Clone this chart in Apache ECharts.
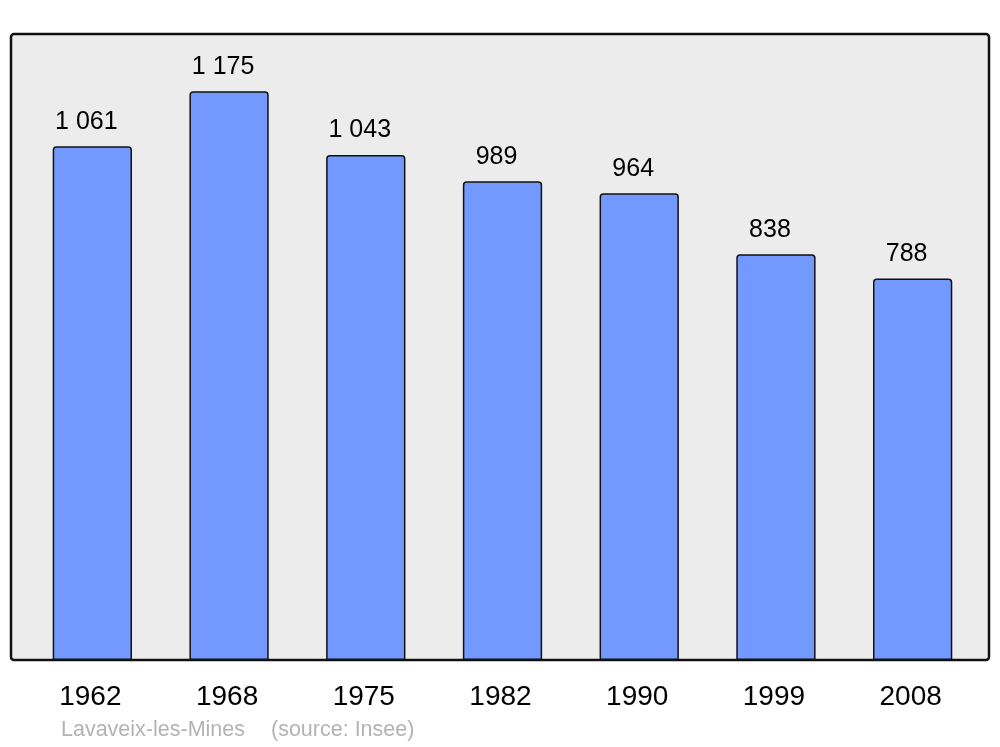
<!DOCTYPE html>
<html>
<head>
<meta charset="utf-8">
<script src="https://cdn.jsdelivr.net/npm/echarts@6/dist/echarts.min.js"></script>
<style>
html,body{margin:0;padding:0;background:#fff;}
#c{width:1000px;height:747px;}
</style>
</head>
<body>
<div id="c"></div>
<script>
const years = ['1962','1968','1975','1982','1990','1999','2008'];
const population = [1061, 1175, 1043, 989, 964, 838, 788];
const valueLabels = ['1 061','1 175','1 043','989','964','838','788'];
const footerName = 'Lavaveix-les-Mines';
const footerSource = '(source: Insee)';

const chart = echarts.init(document.getElementById('c'), null, {renderer:'canvas'});
chart.setOption({
  animation:false,
  backgroundColor:'#ffffff',
  textStyle:{fontFamily:'Liberation Sans, Arial, sans-serif'},
  graphic:[
    {type:'rect', z:-10, shape:{x:11,y:34,width:978,height:626,r:3},
     style:{fill:'#ececec', stroke:'#111', lineWidth:2.5}},
    {type:'text', left:61, top:719, z:10,
     style:{text:footerName, fill:'#b3b3b3', font:'21.5px "Liberation Sans", Arial, sans-serif'}},
    {type:'text', left:271, top:719, z:10,
     style:{text:footerSource, fill:'#b3b3b3', font:'21.5px "Liberation Sans", Arial, sans-serif'}}
  ],
  grid:{left:24, right:19, top:34, bottom:87, containLabel:false},
  xAxis:{
    type:'category', data:years,
    axisLine:{show:false}, axisTick:{show:false},
    axisLabel:{color:'#000', fontSize:28, margin:23, padding:[0,4,0,0], fontFamily:'Liberation Sans, Arial, sans-serif'}
  },
  yAxis:{
    type:'value', min:0, max:1293, show:false, splitLine:{show:false}
  },
  series:[{
    type:'bar', data:population, barWidth:'58%',
    itemStyle:{color:'#7399ff', borderColor:'#111', borderWidth:1.5, borderRadius:[3,3,0,0]},
    label:{show:true, position:'top', distance:12, offset:[-6,0], color:'#000', fontSize:25,
      fontFamily:'Liberation Sans, Arial, sans-serif',
      formatter:(p)=>valueLabels[p.dataIndex]}
  }]
});
</script>
</body>
</html>
